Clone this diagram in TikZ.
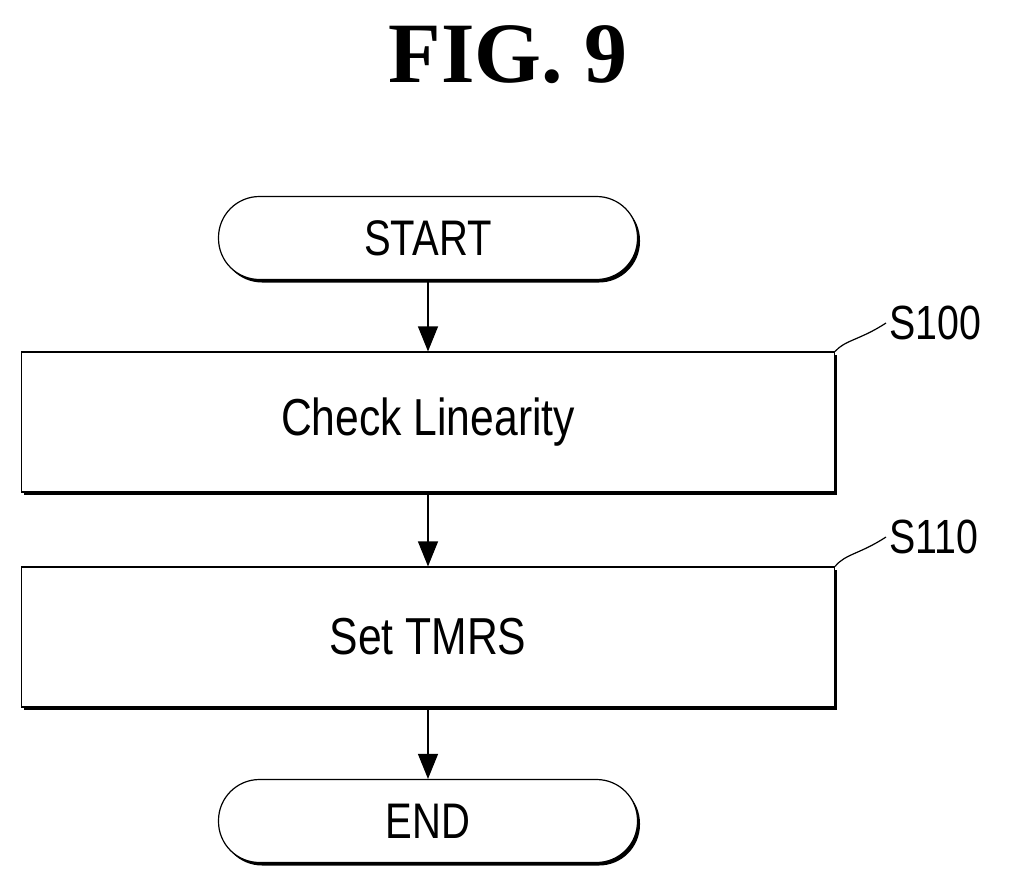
\documentclass[tikz,border=0pt]{standalone}
\usepackage{fontspec}
\setmainfont{Liberation Sans}
\newfontfamily\titlefont{Liberation Serif}
\usetikzlibrary{arrows.meta,shadows}
\begin{document}
\begin{tikzpicture}[x=1pt,y=-1pt,
  shd/.style={drop shadow={shadow xshift=2.5pt,shadow yshift=-3pt,fill=black,opacity=1}},
  box/.style={draw,fill=white,shd,line width=1.2pt,minimum width=813pt,minimum height=140pt,inner sep=0pt},
  term/.style={draw,fill=white,shd,line width=1.2pt,rounded corners=41pt,minimum width=419pt,minimum height=83pt,inner sep=0pt},
  arr/.style={line width=1.2pt,-{Triangle[length=25pt,width=20pt]}},
  lead/.style={line width=1.2pt}]
\useasboundingbox (0,0) rectangle (1011,891);
\node[font=\titlefont\bfseries\fontsize{86}{86}\selectfont] (title) at (508,55) {FIG. 9};
\node[term] (start) at (428,238) {\raisebox{-4pt}{\scalebox{0.8}[1]{\fontsize{50}{50}\selectfont START}}};
\node[box] (b1) at (428,422) {\raisebox{-5pt}{\scalebox{0.82}[1]{\fontsize{52}{52}\selectfont Check Linearity}}};
\node[box] (b2) at (428,637) {\raisebox{-4pt}{\scalebox{0.82}[1]{\fontsize{52}{52}\selectfont Set TMRS}}};
\node[term] (end) at (428,821) {\raisebox{-4pt}{\scalebox{0.8}[1]{\fontsize{50}{50}\selectfont END}}};
\draw[arr] (start) -- (b1);
\draw[arr] (b1) -- (b2);
\draw[arr] (b2) -- (end);
\node[anchor=west] (s100) at (886,323) {\scalebox{0.82}[1]{\fontsize{48}{48}\selectfont S100}};
\node[anchor=west] (s110) at (886,537) {\scalebox{0.82}[1]{\fontsize{48}{48}\selectfont S110}};
\draw[lead] (b1.north east) .. controls (845,340) and (860,340) .. (s100.west);
\draw[lead] (b2.north east) .. controls (845,554) and (860,554) .. (s110.west);
\end{tikzpicture}
\end{document}
